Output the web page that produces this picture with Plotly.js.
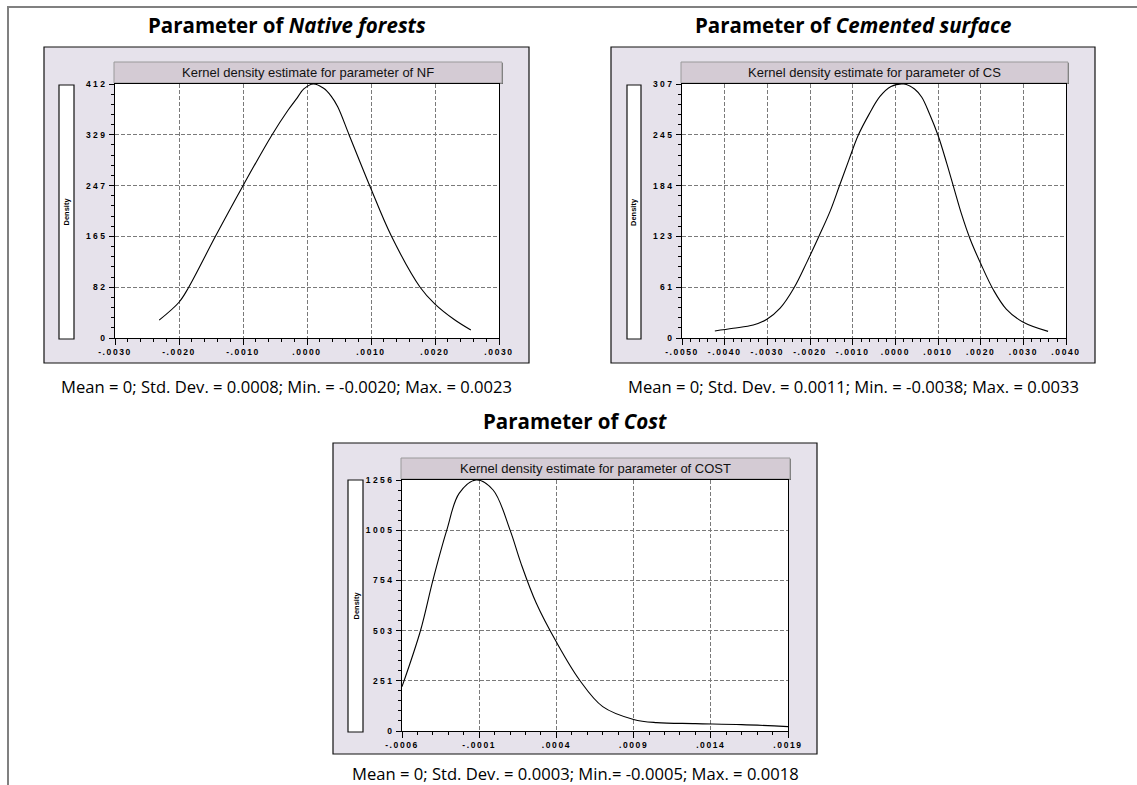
<!DOCTYPE html>
<html>
<head>
<meta charset="utf-8">
<script src="https://cdn.plot.ly/plotly-3.0.1.min.js"></script>
<style>
  html, body { margin: 0; padding: 0; background: #ffffff; }
  #chart { width: 1137px; height: 785px; }
  .xtick text, .x2tick text, .x3tick text { letter-spacing: 1.6px; }
  .ytick text, .y2tick text, .y3tick text { letter-spacing: 2.4px; }
</style>
</head>
<body>
<div id="chart"></div>
<script>
// ---------------- DATA ----------------
const panelTitles = ["Native forests", "Cemented surface", "Cost"];
const bandTitles = [
  "Kernel density estimate for parameter of NF",
  "Kernel density estimate for parameter of CS",
  "Kernel density estimate for parameter of COST"
];
const statTexts = [
  "Mean = 0; Std. Dev. = 0.0008; Min. = -0.0020; Max. = 0.0023",
  "Mean = 0; Std. Dev. = 0.0011; Min. = -0.0038; Max. = 0.0033",
  "Mean = 0; Std. Dev. = 0.0003; Min.= -0.0005; Max. = 0.0018"
];
const yAxisLabel = "Density";

// Native forests (NF)
const nfX = [-0.00231, -0.00200, -0.00185, -0.00143, -0.00100, -0.00055, -0.00030, -0.00015, -0.00005, 0.0001,
             0.00026, 0.00038, 0.00048, 0.00066, 0.00098, 0.00132, 0.00177, 0.00200, 0.00230, 0.00256];
const nfY = [29, 58, 82, 165, 247, 329, 369, 390, 404, 412,
             405, 392, 375, 329, 247, 165, 82, 55, 30, 13];
const nfXTickVals = [-0.003, -0.002, -0.001, 0, 0.001, 0.002, 0.003];
const nfXTickText = ["-.0030", "-.0020", "-.0010", ".0000", ".0010", ".0020", ".0030"];
const nfYTickVals = [0, 82.4, 164.8, 247.2, 329.6, 412];
const nfYTickText = ["0", "82", "165", "247", "329", "412"];

// Cemented surface (CS)
const csX = [-0.00423, -0.0038, -0.00333, -0.00301, -0.0027, -0.00237, -0.00207, -0.00179, -0.00153, -0.00131,
             -0.00109, -0.00087, -0.00062, -0.00036, -0.0001, 0.0002, 0.00045, 0.00062, 0.0008, 0.001,
             0.0012, 0.00138, 0.00155, 0.00175, 0.002, 0.0023, 0.0026, 0.0030, 0.00358];
const csY = [8.5, 11.7, 15.7, 22.6, 36, 61, 92, 123, 153, 184,
             215, 245, 270, 292, 304, 307, 301, 291, 271, 245,
             212, 180, 150, 120, 90, 58, 35, 19, 8];
const csXTickVals = [-0.005, -0.004, -0.003, -0.002, -0.001, 0, 0.001, 0.002, 0.003, 0.004];
const csXTickText = ["-.0050", "-.0040", "-.0030", "-.0020", "-.0010", ".0000", ".0010", ".0020", ".0030", ".0040"];
const csYTickVals = [0, 61.4, 122.8, 184.2, 245.6, 307];
const csYTickText = ["0", "61", "123", "184", "245", "307"];

// Cost (COST)
const costX = [-0.0006, -0.00048, -0.0004, -0.00031, -0.00023, -0.00012, -0.00001, 0.0001, 0.00017, 0.00027,
               0.0004, 0.00055, 0.0007, 0.0009, 0.00105, 0.0013, 0.0016, 0.0019];
const costY = [222, 503, 754, 1005, 1189, 1256, 1206, 1005, 840, 639,
               445, 255, 122, 58, 42, 37, 32, 22];
const costXTickVals = [-0.0006, -0.0001, 0.0004, 0.0009, 0.0014, 0.0019];
const costXTickText = ["-.0006", "-.0001", ".0004", ".0009", ".0014", ".0019"];
const costYTickVals = [0, 251.2, 502.4, 753.6, 1004.8, 1256];
const costYTickText = ["0", "251", "503", "754", "1005", "1256"];

// ---------------- LAYOUT HELPERS ----------------
const W = 1137, H = 785;
const fx = p => p / W;
const fy = p => 1 - p / H;

// pixel geometry of each panel
const panels = [
  { box: [44, 47, 529, 363], plot: [115, 84, 499, 338], band: [114, 62, 502, 83], dens: [59, 85, 74, 339],
    titleY: 25, statY: 386 },
  { box: [611, 47, 1095, 363], plot: [682, 84, 1066, 338], band: [681, 62, 1068, 83], dens: [627, 85, 641, 339],
    titleY: 25, statY: 386 },
  { box: [333, 443, 817, 754], plot: [402, 480, 788, 731], band: [401, 458, 790, 479], dens: [348, 480, 363, 732],
    titleY: 421, statY: 773 }
];

const tickFont = { family: "Liberation Sans, Arial, sans-serif", size: 8.5, color: "#000", weight: "bold" };

function xAxis(p, vals, text, range, minorDtick) {
  return {
    domain: [fx(p.plot[0]), fx(p.plot[2])],
    range: range, fixedrange: true,
    tickmode: "array", tickvals: vals, ticktext: text,
    ticks: "outside", ticklen: 6, tickwidth: 1, tickcolor: "#000",
    showline: true, linecolor: "#000", linewidth: 1, mirror: true,
    showgrid: true, gridcolor: "#7a7a7a", griddash: "4px,2px", gridwidth: 1,
    zeroline: false, tickfont: tickFont,
    minor: { tick0: range[0], dtick: minorDtick, ticks: "outside", ticklen: 3, tickcolor: "#000", showgrid: false }
  };
}
function yAxis(p, vals, text, range, minorDtick) {
  return {
    domain: [fy(p.plot[3]), fy(p.plot[1])],
    range: range, fixedrange: true,
    tickmode: "array", tickvals: vals, ticktext: text,
    ticks: "outside", ticklen: 5, tickwidth: 1, tickcolor: "#000",
    showline: true, linecolor: "#000", linewidth: 1, mirror: true,
    showgrid: true, gridcolor: "#7a7a7a", griddash: "4px,2px", gridwidth: 1,
    zeroline: false, tickfont: tickFont,
    minor: { tick0: 0, dtick: minorDtick, ticks: "outside", ticklen: 3, tickcolor: "#000", showgrid: false }
  };
}

const lineStyle = { color: "#000", width: 1.1, shape: "spline", smoothing: 1 };
const traces = [
  { x: nfX, y: nfY, type: "scatter", mode: "lines", line: lineStyle, xaxis: "x", yaxis: "y", hoverinfo: "skip" },
  { x: csX, y: csY, type: "scatter", mode: "lines", line: lineStyle, xaxis: "x2", yaxis: "y2", hoverinfo: "skip" },
  { x: costX, y: costY, type: "scatter", mode: "lines", line: lineStyle, xaxis: "x3", yaxis: "y3", hoverinfo: "skip" }
];

const shapes = [];
// outer frame (top and left edges visible)
shapes.push({ type: "line", xref: "paper", yref: "paper", x0: fx(7), x1: fx(1137), y0: fy(7), y1: fy(7),
              line: { color: "#808080", width: 2 }, layer: "below" });
shapes.push({ type: "line", xref: "paper", yref: "paper", x0: fx(8), x1: fx(8), y0: fy(6), y1: fy(785),
              line: { color: "#808080", width: 2 }, layer: "below" });

panels.forEach(p => {
  shapes.push({ type: "rect", xref: "paper", yref: "paper",
    x0: fx(p.box[0]), x1: fx(p.box[2]), y0: fy(p.box[3]), y1: fy(p.box[1]),
    fillcolor: "#e6e2eb", line: { color: "#111", width: 1.2 }, layer: "below" });
  shapes.push({ type: "rect", xref: "paper", yref: "paper",
    x0: fx(p.plot[0]), x1: fx(p.plot[2]), y0: fy(p.plot[3]), y1: fy(p.plot[1]),
    fillcolor: "#ffffff", line: { width: 0 }, layer: "below" });
  shapes.push({ type: "rect", xref: "paper", yref: "paper",
    x0: fx(p.band[0] + 1), x1: fx(p.band[2] + 1), y0: fy(p.band[3] + 1), y1: fy(p.band[1] + 1),
    fillcolor: "#6a6a6a", line: { width: 0 }, layer: "below" });
  shapes.push({ type: "rect", xref: "paper", yref: "paper",
    x0: fx(p.band[0]), x1: fx(p.band[2]), y0: fy(p.band[3]), y1: fy(p.band[1]),
    fillcolor: "#d4cbd4", line: { color: "#9a9a9a", width: 1 }, layer: "below" });
  shapes.push({ type: "rect", xref: "paper", yref: "paper",
    x0: fx(p.dens[0]), x1: fx(p.dens[2]), y0: fy(p.dens[3]), y1: fy(p.dens[1]),
    fillcolor: "#ffffff", line: { color: "#111", width: 1.2 }, layer: "below" });
});

const annotations = [];
panels.forEach((p, i) => {
  const cx = (p.box[0] + p.box[2]) / 2;
  annotations.push({ xref: "paper", yref: "paper", x: fx(cx), y: fy(p.titleY), xanchor: "center", yanchor: "middle",
    showarrow: false, text: "<b>Parameter of <i>" + panelTitles[i] + "</i></b>",
    font: { family: "Open Sans, sans-serif", size: 20.5, color: "#000" } });
  annotations.push({ xref: "paper", yref: "paper", x: fx(cx), y: fy(p.statY), xanchor: "center", yanchor: "middle",
    showarrow: false, text: statTexts[i],
    font: { family: "Open Sans, sans-serif", size: 16.6, color: "#000" } });
  annotations.push({ xref: "paper", yref: "paper", x: fx((p.band[0] + p.band[2]) / 2), y: fy((p.band[1] + p.band[3]) / 2),
    xanchor: "center", yanchor: "middle", showarrow: false, text: bandTitles[i],
    font: { family: "Liberation Sans, Arial, sans-serif", size: 13, color: "#111" } });
  annotations.push({ xref: "paper", yref: "paper", x: fx((p.dens[0] + p.dens[2]) / 2), y: fy((p.dens[1] + p.dens[3]) / 2),
    xanchor: "center", yanchor: "middle", showarrow: false, text: "<b>" + yAxisLabel + "</b>", textangle: -90,
    font: { family: "Liberation Sans, Arial, sans-serif", size: 7.5, color: "#000" } });
});

const layout = {
  width: W, height: H,
  margin: { l: 0, r: 0, t: 0, b: 0 },
  paper_bgcolor: "#ffffff", plot_bgcolor: "rgba(0,0,0,0)",
  showlegend: false,
  xaxis: Object.assign(xAxis(panels[0], nfXTickVals, nfXTickText, [-0.003, 0.003], 0.0002), { anchor: "y" }),
  yaxis: Object.assign(yAxis(panels[0], nfYTickVals, nfYTickText, [0, 412], 412 / 25), { anchor: "x" }),
  xaxis2: Object.assign(xAxis(panels[1], csXTickVals, csXTickText, [-0.005, 0.004], 0.0002), { anchor: "y2" }),
  yaxis2: Object.assign(yAxis(panels[1], csYTickVals, csYTickText, [0, 307], 307 / 25), { anchor: "x2" }),
  xaxis3: Object.assign(xAxis(panels[2], costXTickVals, costXTickText, [-0.0006, 0.0019], 0.0001), { anchor: "y3" }),
  yaxis3: Object.assign(yAxis(panels[2], costYTickVals, costYTickText, [0, 1256], 1256 / 25), { anchor: "x3" }),
  shapes: shapes,
  annotations: annotations
};

Plotly.newPlot("chart", traces, layout, { staticPlot: true, displayModeBar: false });
</script>
</body>
</html>
